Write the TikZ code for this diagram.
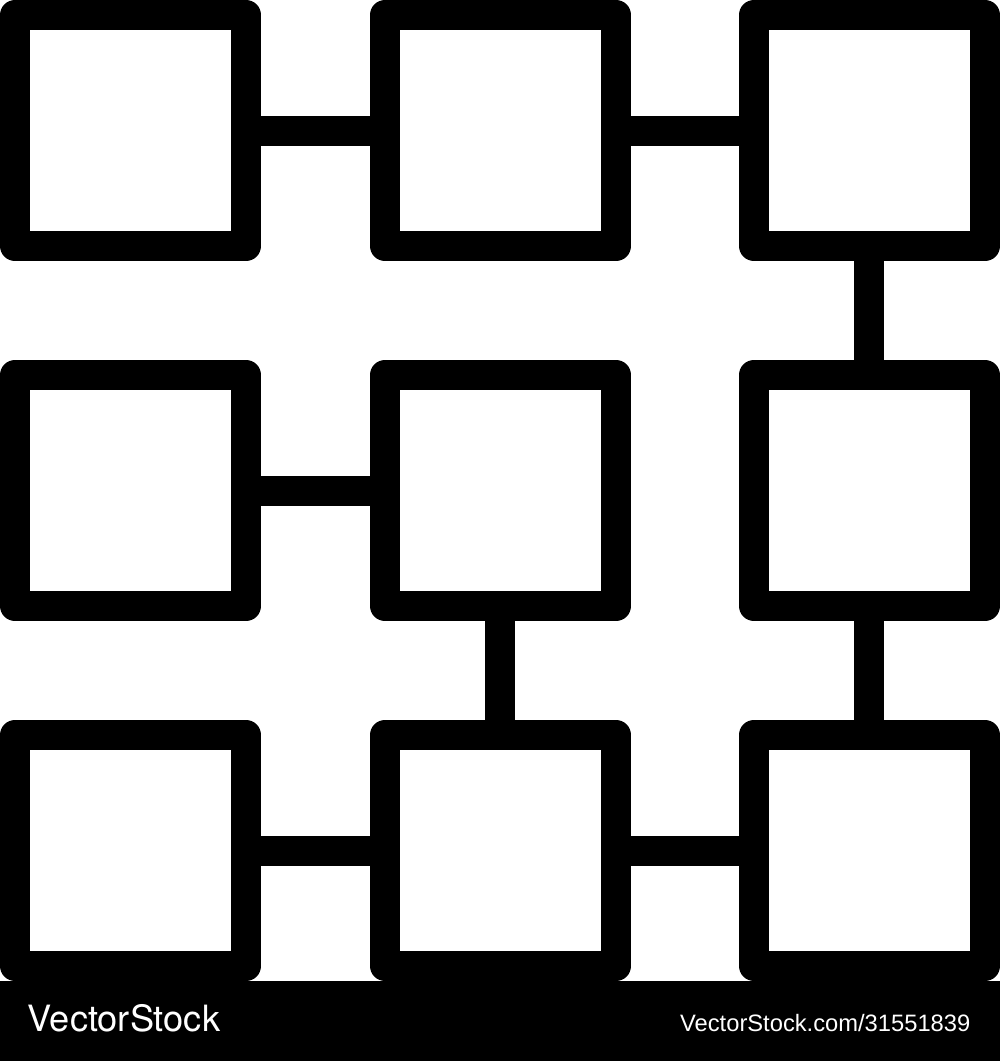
\documentclass[tikz,border=0pt]{standalone}
\usepackage{fontspec}
\newfontfamily\logofont{TeX Gyre Heros}
\newfontfamily\urlfont{Liberation Sans}
\usetikzlibrary{positioning}

\begin{document}
\begin{tikzpicture}[
	    cell/.style={rectangle, draw, fill=white, line width=0.3cm, line join=round, minimum size=2.31cm, inner sep=0},
	    link/.style={line width=0.3cm},
	    bar/.style={rectangle, fill=black, minimum width=10.02cm, minimum height=0.82cm, inner sep=0},
	    barlogo/.style={text=white, inner sep=0, font=\logofont\fontsize{10.3pt}{12pt}\selectfont},
	    barurl/.style={text=white, inner sep=0, font=\urlfont\fontsize{6.75pt}{8pt}\selectfont},
	]
	\useasboundingbox (0,0) rectangle (10,-10.61);

	% ------------ top row
	\node[cell] (ca) at (1.305,-1.305) {};
	\node[cell, right=1.09cm of ca] (cb) {};
	\node[cell, right=1.08cm of cb] (cc) {};

	% ------------ middle row
	\node[cell, below=0.99cm of ca] (cd) {};
	\node[cell, below=0.99cm of cb] (ce) {};
	\node[cell, below=0.99cm of cc] (cf) {};

	% ------------ bottom row
	\node[cell, below=0.99cm of cd] (cg) {};
	\node[cell, below=0.99cm of ce] (ch) {};
	\node[cell, below=0.99cm of cf] (ci) {};

	\draw [link] (ca) -- (cb);
	\draw [link] (cb) -- (cc);
	\draw [link] (cc) -- (cf);
	\draw [link] (cd) -- (ce);
	\draw [link] (ce) -- (ch);
	\draw [link] (cf) -- (ci);
	\draw [link] (cg) -- (ch);
	\draw [link] (ch) -- (ci);

	% ------------ credit bar
	\node[bar, anchor=north west] (strip) at (-0.01,-9.80) {};
	\node[barlogo, anchor=base west] (logo) at (0.27,-10.31) {VectorStock};
	\node[barurl, anchor=base east] (url) at (9.71,-10.31) {VectorStock.com/31551839};
\end{tikzpicture}
\end{document}
